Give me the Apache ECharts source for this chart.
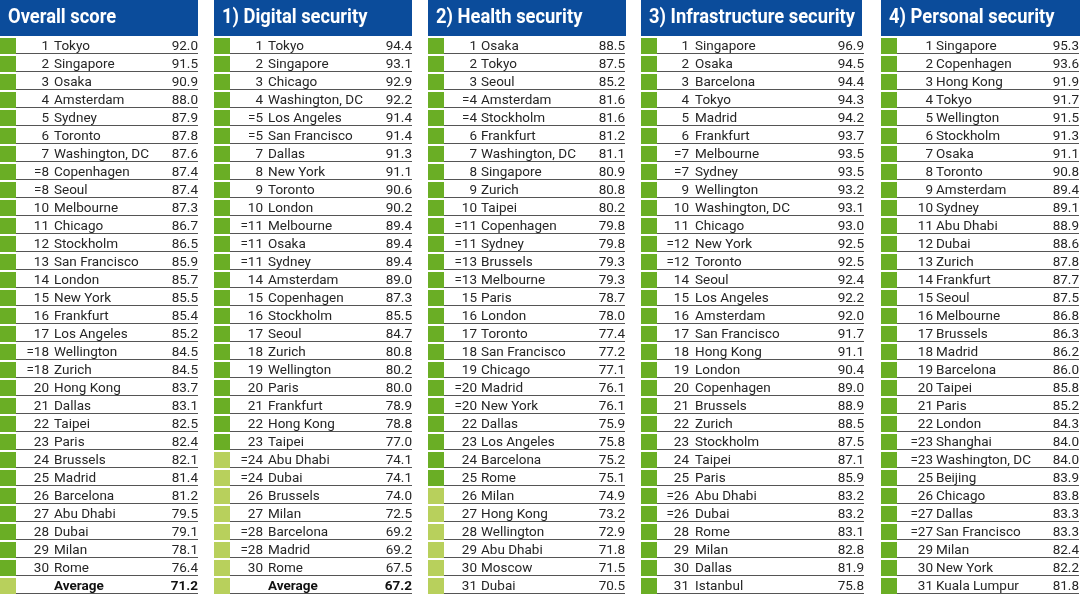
<!DOCTYPE html>
<html>
<head>
<meta charset="utf-8">
<style>
  html, body { margin: 0; padding: 0; background: #ffffff; }
  #chart { width: 1080px; height: 595px; }
</style>
<script src="https://cdn.jsdelivr.net/npm/echarts@6/dist/echarts.min.js"></script>
</head>
<body>
<div id="chart"></div>
<script>
// ---------- DATA ----------
const panelTitles = ['Overall score', '1) Digital security', '2) Health security', '3) Infrastructure security', '4) Personal security'];

const overallRanks = ['1','2','3','4','5','6','7','=8','=8','10','11','12','13','14','15','16','17','=18','=18','20','21','22','23','24','25','26','27','28','29','30',''];
const overallCities = ['Tokyo','Singapore','Osaka','Amsterdam','Sydney','Toronto','Washington, DC','Copenhagen','Seoul','Melbourne','Chicago','Stockholm','San Francisco','London','New York','Frankfurt','Los Angeles','Wellington','Zurich','Hong Kong','Dallas','Taipei','Paris','Brussels','Madrid','Barcelona','Abu Dhabi','Dubai','Milan','Rome','Average'];
const overallScores = [92.0,91.5,90.9,88.0,87.9,87.8,87.6,87.4,87.4,87.3,86.7,86.5,85.9,85.7,85.5,85.4,85.2,84.5,84.5,83.7,83.1,82.5,82.4,82.1,81.4,81.2,79.5,79.1,78.1,76.4,71.2];

const digitalRanks = ['1','2','3','4','=5','=5','7','8','9','10','=11','=11','=11','14','15','16','17','18','19','20','21','22','23','=24','=24','26','27','=28','=28','30',''];
const digitalCities = ['Tokyo','Singapore','Chicago','Washington, DC','Los Angeles','San Francisco','Dallas','New York','Toronto','London','Melbourne','Osaka','Sydney','Amsterdam','Copenhagen','Stockholm','Seoul','Zurich','Wellington','Paris','Frankfurt','Hong Kong','Taipei','Abu Dhabi','Dubai','Brussels','Milan','Barcelona','Madrid','Rome','Average'];
const digitalScores = [94.4,93.1,92.9,92.2,91.4,91.4,91.3,91.1,90.6,90.2,89.4,89.4,89.4,89.0,87.3,85.5,84.7,80.8,80.2,80.0,78.9,78.8,77.0,74.1,74.1,74.0,72.5,69.2,69.2,67.5,67.2];

const healthRanks = ['1','2','3','=4','=4','6','7','8','9','10','=11','=11','=13','=13','15','16','17','18','19','=20','=20','22','23','24','25','26','27','28','29','30','31'];
const healthCities = ['Osaka','Tokyo','Seoul','Amsterdam','Stockholm','Frankfurt','Washington, DC','Singapore','Zurich','Taipei','Copenhagen','Sydney','Brussels','Melbourne','Paris','London','Toronto','San Francisco','Chicago','Madrid','New York','Dallas','Los Angeles','Barcelona','Rome','Milan','Hong Kong','Wellington','Abu Dhabi','Moscow','Dubai'];
const healthScores = [88.5,87.5,85.2,81.6,81.6,81.2,81.1,80.9,80.8,80.2,79.8,79.8,79.3,79.3,78.7,78.0,77.4,77.2,77.1,76.1,76.1,75.9,75.8,75.2,75.1,74.9,73.2,72.9,71.8,71.5,70.5];

const infraRanks = ['1','2','3','4','5','6','=7','=7','9','10','11','=12','=12','14','15','16','17','18','19','20','21','22','23','24','25','=26','=26','28','29','30','31'];
const infraCities = ['Singapore','Osaka','Barcelona','Tokyo','Madrid','Frankfurt','Melbourne','Sydney','Wellington','Washington, DC','Chicago','New York','Toronto','Seoul','Los Angeles','Amsterdam','San Francisco','Hong Kong','London','Copenhagen','Brussels','Zurich','Stockholm','Taipei','Paris','Abu Dhabi','Dubai','Rome','Milan','Dallas','Istanbul'];
const infraScores = [96.9,94.5,94.4,94.3,94.2,93.7,93.5,93.5,93.2,93.1,93.0,92.5,92.5,92.4,92.2,92.0,91.7,91.1,90.4,89.0,88.9,88.5,87.5,87.1,85.9,83.2,83.2,83.1,82.8,81.9,75.8];

const personalRanks = ['1','2','3','4','5','6','7','8','9','10','11','12','13','14','15','16','17','18','19','20','21','22','=23','=23','25','26','=27','=27','29','30','31'];
const personalCities = ['Singapore','Copenhagen','Hong Kong','Tokyo','Wellington','Stockholm','Osaka','Toronto','Amsterdam','Sydney','Abu Dhabi','Dubai','Zurich','Frankfurt','Seoul','Melbourne','Brussels','Madrid','Barcelona','Taipei','Paris','London','Shanghai','Washington, DC','Beijing','Chicago','Dallas','San Francisco','Milan','New York','Kuala Lumpur'];
const personalScores = [95.3,93.6,91.9,91.7,91.5,91.3,91.1,90.8,89.4,89.1,88.9,88.6,87.8,87.7,87.5,86.8,86.3,86.2,86.0,85.8,85.2,84.3,84.0,84.0,83.9,83.8,83.3,83.3,82.4,82.2,81.8];

// ---------- LAYOUT / STYLE ----------
const tables = [
  { ranks: overallRanks, cities: overallCities, scores: overallScores },
  { ranks: digitalRanks, cities: digitalCities, scores: digitalScores },
  { ranks: healthRanks, cities: healthCities, scores: healthScores },
  { ranks: infraRanks, cities: infraCities, scores: infraScores },
  { ranks: personalRanks, cities: personalCities, scores: personalScores }
];
const panelLeft = [0, 214, 428, 641, 881];
const panelWidth = [198, 198, 197, 223, 198];
const rankRight = [49, 49, 49, 48, 52];
const cityLeft = [54, 54, 53, 54, 55];
const headerWidth = [198, 198, 198, 221, 199];

const GRID_TOP = 37, ROW_H = 18, HEADER_H = 36;
const DARK_GREEN = '#6aae25', LIGHT_GREEN = '#b8d05c', BLUE = '#0b4c9b';
const TEXT = '#262626', FONT = 'Roboto, "Open Sans", sans-serif';
const HEADER_FONT = 'bold 21px ' + FONT;

// horizontal compression of the header font so it looks condensed like the original
const mctx = document.createElement('canvas').getContext('2d');
mctx.font = HEADER_FONT;
const headerScale = Math.min(1, 206 / mctx.measureText(panelTitles[3]).width);

const chart = echarts.init(document.getElementById('chart'), null, { renderer: 'canvas' });

const grids = [], xAxes = [], yAxes = [], series = [], graphics = [];
tables.forEach((t, k) => {
  const n = t.cities.length;
  grids.push({ left: panelLeft[k], top: GRID_TOP, width: panelWidth[k], height: n * ROW_H, containLabel: false });
  xAxes.push({ type: 'value', gridIndex: k, min: 0, max: panelWidth[k], show: false });
  yAxes.push({ type: 'category', gridIndex: k, data: t.cities, inverse: true, show: false });
  series.push({
    type: 'custom',
    xAxisIndex: k, yAxisIndex: k,
    data: t.scores.map((v, i) => [0, i, v]),
    encode: { x: 0, y: 1 },
    silent: true,
    renderItem: function (params, api) {
      const i = params.dataIndex;
      const c = api.coord([0, i]);
      const bandH = api.size([0, 1])[1];
      const y = c[1];
      const xAt = off => api.coord([off, i])[0];
      const score = api.value(2);
      const isAvg = t.cities[i] === 'Average';
      const sq = bandH - 2;
      return {
        type: 'group',
        children: [
          { type: 'rect', shape: { x: xAt(0), y: y - sq / 2, width: 16, height: sq },
            style: { fill: score >= 75 ? DARK_GREEN : LIGHT_GREEN } },
          { type: 'line', shape: { x1: xAt(16), y1: y + sq / 2 - 0.5, x2: xAt(panelWidth[k]), y2: y + sq / 2 - 0.5 },
            style: { stroke: '#555555', lineWidth: 1.2 } },
          { type: 'text', style: { x: xAt(rankRight[k]), y: y + 1, text: t.ranks[i], align: 'right', verticalAlign: 'middle',
            fill: TEXT, font: '13.5px ' + FONT } },
          { type: 'text', style: { x: xAt(cityLeft[k]), y: y + 1, text: t.cities[i], align: 'left', verticalAlign: 'middle',
            fill: isAvg ? '#111' : TEXT, font: (isAvg ? 'bold ' : '') + '13.5px ' + FONT } },
          { type: 'text', style: { x: xAt(panelWidth[k]), y: y + 1, text: score.toFixed(1), align: 'right', verticalAlign: 'middle',
            fill: isAvg ? '#111' : TEXT, font: (isAvg ? 'bold ' : '') + '13.5px ' + FONT } }
        ]
      };
    }
  });
  graphics.push({ type: 'rect', x: panelLeft[k], y: 0, shape: { x: 0, y: 0, width: headerWidth[k], height: HEADER_H }, style: { fill: BLUE }, silent: true });
  graphics.push({ type: 'text', x: panelLeft[k] + 8, y: 18, scaleX: headerScale, scaleY: 1,
    style: { text: panelTitles[k], fill: '#ffffff', font: HEADER_FONT, verticalAlign: 'middle', align: 'left' }, silent: true });
});

chart.setOption({
  animation: false,
  backgroundColor: '#ffffff',
  grid: grids,
  xAxis: xAxes,
  yAxis: yAxes,
  series: series,
  graphic: graphics
});
</script>
</body>
</html>
